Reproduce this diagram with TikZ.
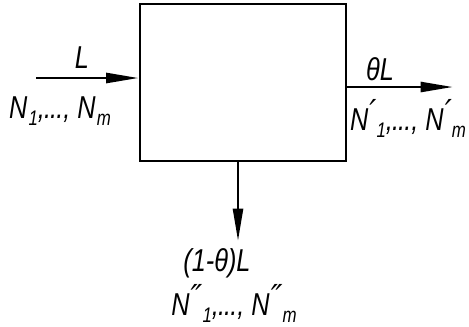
\documentclass[tikz,border=0pt]{standalone}
\usepackage{fontspec}
\setmainfont{Liberation Sans}
\newfontfamily\lblfont[FakeStretch=0.8]{Liberation Sans}
\newfontfamily\primefont{DejaVu Sans}
\usetikzlibrary{positioning,arrows.meta}
\newcommand\Nidx[2]{N\kern0.6pt\raisebox{0.5ex}{\primefont\itshape #1}\raisebox{-0.4ex}{\fontsize{12}{12}\selectfont #2}}
\newcommand\tdots{,\kern-0.5pt.\kern-0.5pt.\kern-0.5pt.,}
\tikzset{
  unitbox/.style={draw,line width=1.6pt,minimum width=4.12cm,minimum height=3.14cm},
  flow/.style={-{Triangle[length=6.5mm,width=2mm]},line width=1.5pt},
  lbl/.style={font=\lblfont\fontsize{18}{20}\selectfont\itshape,inner sep=0pt},
}
\begin{document}
\begin{tikzpicture}[x=0.02cm,y=-0.02cm]
  \useasboundingbox (0,0) rectangle (469,326);
  \node[unitbox] (unit) at (243,82.5) {};
  % inlet, outlet and bottom stream
  \coordinate (inL) at (36,78);
  \coordinate (outR) at (453,87);
  \coordinate (outB) at (238,241);
  \draw[flow] (inL) -- (inL-|unit.west);
  \draw[flow] (outR-|unit.east) -- (outR);
  \draw[flow] (outB|-unit.south) -- (outB);
  % labels
  \node[lbl] (lin) at (82,58) {L};
  \node[lbl] (nin) at (60,111) {\Nidx{}{1}\tdots\ \Nidx{}{m}};
  \node[lbl] (lout) at (380,69) {θL};
  \node[lbl] (nout) at (408,118) {\Nidx{′}{1}\tdots\ \Nidx{′}{m}};
  \node[lbl] (lbot) at (217,263) {(1-θ)L};
  \node[lbl] (nbot) at (234,303) {\Nidx{″}{1}\tdots\ \Nidx{″}{m}};
\end{tikzpicture}
\end{document}
